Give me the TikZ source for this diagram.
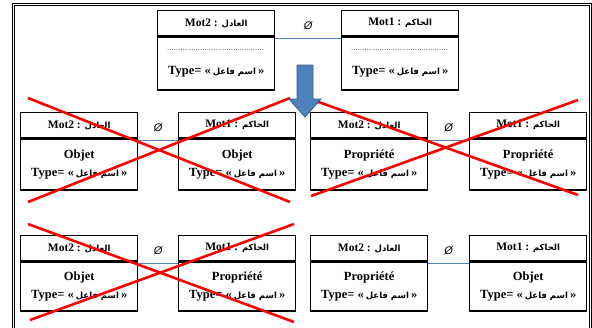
\documentclass[tikz,border=0pt]{standalone}
\usepackage{fontspec}
\setmainfont{Liberation Serif}
\newfontfamily\arfont[Script=Arabic]{DejaVu Sans}
\newfontfamily\symfont{Liberation Sans}
\TeXXeTstate=1
\definecolor{connblue}{HTML}{4F81BD}
\definecolor{arrowfill}{HTML}{4F81BD}
\definecolor{arrowline}{HTML}{385D8A}
\newcommand\hm[2]{#1 : {\arfont\fontsize{8.5}{9}\selectfont\beginR #2\endR}}
\newcommand\typ{Type= «\,{\arfont\fontsize{8.5}{9}\selectfont\beginR اسم فاعل\endR}\,»}
\newcommand\dotline{{\mdseries\fontsize{7}{8}\selectfont\hbox to 98pt{\leaders\hbox to 2.2pt{\hss.\hss}\hfill}}}
\newcommand\umlbox[6]{%
  \node[hdr] (#1h) at (#2,#3) {#5};
  \node[bdy, minimum height=#4pt] (#1b) at (#1h.south) {#6};}
\begin{document}
\begin{tikzpicture}[x=1pt,y=-1pt,
  hdr/.style={draw, line width=1.4pt, fill=white, minimum width=117pt, minimum height=25pt,
    inner sep=0pt, font=\bfseries\fontsize{11.5}{12}\selectfont, anchor=north west},
  bdy/.style={draw, line width=1.4pt, fill=white, minimum width=117pt, inner sep=0pt,
    align=center, font=\bfseries\fontsize{12.5}{18}\selectfont, anchor=north},
  conn/.style={draw=connblue, line width=0.8pt},
  empty/.style={font=\symfont\itshape\fontsize{11}{12}\selectfont, inner sep=0pt, above=8pt},
  cross/.style={draw=red, line width=2.6pt},
  frame/.style={draw=black, double=white, line width=0.9pt, double distance=0.7pt}]
\useasboundingbox (0,0) rectangle (592,327);
\draw[frame] (13.5,4.5) rectangle (590.4,345);
% top pair
\umlbox{a0}{157}{10}{53}{\hm{Mot2}{العادل}}{\dotline\\[6pt]\typ}
\umlbox{b0}{341}{10}{53}{\hm{Mot1}{الحاكم}}{\dotline\\[6pt]\typ}
% middle row
\umlbox{a1}{20}{112}{51}{\hm{Mot2}{العادل}}{Objet\\\typ}
\umlbox{b1}{178}{112}{51}{\hm{Mot1}{الحاكم}}{Objet\\\typ}
\umlbox{c1}{310}{112}{51}{\hm{Mot2}{العادل}}{Propriété\\\typ}
\umlbox{d1}{469}{112}{51}{\hm{Mot1}{الحاكم}}{Propriété\\\typ}
% bottom row
\umlbox{a2}{20}{235}{49}{\hm{Mot2}{العادل}}{Objet\\\typ}
\umlbox{b2}{178}{235}{49}{\hm{Mot1}{الحاكم}}{Propriété\\\typ}
\umlbox{c2}{310}{235}{49}{\hm{Mot2}{العادل}}{Propriété\\\typ}
\umlbox{d2}{469}{235}{49}{\hm{Mot1}{الحاكم}}{Objet\\\typ}
% connectors
\draw[conn] ([yshift=-2pt]a0h.south east) -- node[empty] (e0) {Ø} ([yshift=-2pt]b0h.south west);
\draw[conn] ([yshift=-1.5pt]a1h.south east) -- node[empty] (e1) {Ø} ([yshift=-1.5pt]b1h.south west);
\draw[conn] ([yshift=-1.5pt]c1h.south east) -- node[empty] (e2) {Ø} ([yshift=-1.5pt]d1h.south west);
\draw[conn] ([yshift=-1.5pt]a2h.south east) -- node[empty] (e3) {Ø} ([yshift=-1.5pt]b2h.south west);
\draw[conn] ([yshift=-1.5pt]c2h.south east) -- node[empty] (e4) {Ø} ([yshift=-1.5pt]d2h.south west);
% red crosses
\draw[cross] (28,98) -- (290,202);
\draw[cross] (290,98) -- (28,202);
\draw[cross] (313,100) -- (578,195);
\draw[cross] (578,100) -- (311,196);
\draw[cross] (28,224) -- (294,322);
\draw[cross] (294,224) -- (30,320);
% blue arrow
\draw[fill=arrowfill, draw=arrowline, line width=0.8pt, line join=miter]
  (297,65) -- (313,65) -- (313,99) -- (321,99) -- (305,117) -- (289,99) -- (297,99) -- cycle;
\end{tikzpicture}
\end{document}
